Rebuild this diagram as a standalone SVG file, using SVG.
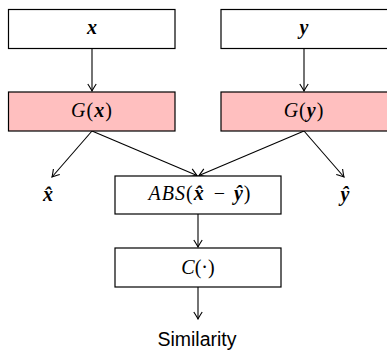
<svg xmlns="http://www.w3.org/2000/svg" width="387" height="352" viewBox="0 0 387 352">
<style>
.box{fill:#fff;stroke:#000;stroke-width:1.2}
.g{fill:#ffbfbf;stroke:#000;stroke-width:1.2}
.m{font-family:"Liberation Serif","DejaVu Serif",serif;font-size:20px;font-style:italic;text-anchor:middle}
.b{font-weight:bold}
.r{font-style:normal}
.e{stroke:#000;stroke-width:1.1;fill:none;marker-end:url(#a)}
.s{font-family:"Liberation Sans",Arial,sans-serif;font-size:19.5px;text-anchor:middle}
</style>
<defs>
<marker id="a" viewBox="-8 -5 9 10" markerWidth="9" markerHeight="10" refX="0" refY="0" orient="auto" markerUnits="userSpaceOnUse">
<path d="M-7,-4.2 Q-2,-1 0,0 Q-2,1 -7,4.2" fill="none" stroke="#000" stroke-width="1.1"/>
</marker>
</defs>
<rect width="387" height="352" fill="#fff"/>
<g id="connectors">
<line class="e" x1="92" y1="49" x2="92" y2="91"/>
<line class="e" x1="304" y1="49" x2="304" y2="91"/>
<line class="e" x1="92" y1="131" x2="52" y2="177"/>
<line class="e" x1="92" y1="131" x2="197" y2="175.5"/>
<line class="e" x1="304" y1="131" x2="199" y2="175.5"/>
<line class="e" x1="304" y1="131" x2="344" y2="177"/>
<line class="e" x1="198" y1="214" x2="198" y2="247"/>
<line class="e" x1="198" y1="287" x2="198" y2="319"/>
</g>
<g id="x">
<rect class="box" x="8.5" y="9.5" width="166.5" height="39"/>
<text class="m b" x="92" y="34">x</text>
</g>
<g id="y">
<rect class="box" x="221" y="9.5" width="170" height="39"/>
<text class="m b" x="304" y="34">y</text>
</g>
<g id="Gx">
<rect class="g" x="8.5" y="92" width="166.5" height="39"/>
<text class="m" x="92" y="117" letter-spacing="1">G<tspan class="r">(</tspan><tspan class="b">x</tspan><tspan class="r">)</tspan></text>
</g>
<g id="Gy">
<rect class="g" x="221" y="92" width="170" height="39"/>
<text class="m" x="304" y="117" letter-spacing="1">G<tspan class="r">(</tspan><tspan class="b">y</tspan><tspan class="r">)</tspan></text>
</g>
<g id="xhat">
<text class="m b" x="48" y="201">x̂</text>
</g>
<g id="yhat">
<text class="m b" x="345" y="201">ŷ</text>
</g>
<g id="abs">
<rect class="box" x="115" y="176" width="166" height="38"/>
<text class="m" x="200" y="200" font-size="21" letter-spacing="1">ABS<tspan class="r">(</tspan><tspan class="b">x̂</tspan><tspan class="r" dx="3"> − </tspan><tspan class="b" dx="2">ŷ</tspan><tspan class="r">)</tspan></text>
</g>
<g id="C">
<rect class="box" x="115" y="248" width="166" height="39"/>
<text class="m" x="198" y="274">C<tspan class="r">(·)</tspan></text>
</g>
<g id="sim">
<text class="s" x="197" y="346">Similarity</text>
</g>
</svg>
